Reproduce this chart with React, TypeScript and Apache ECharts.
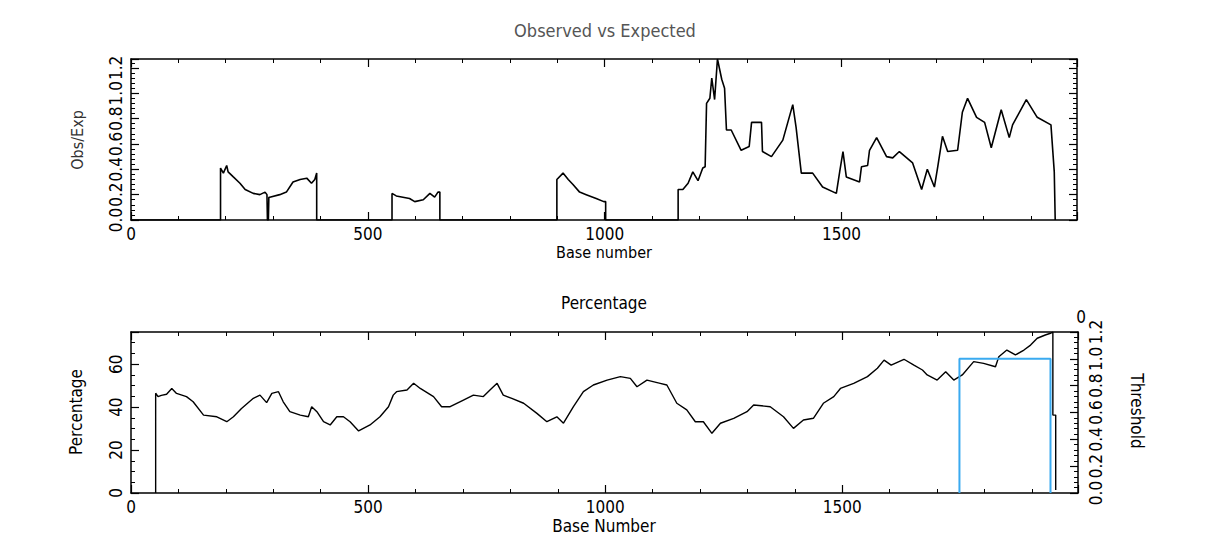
import React, { useEffect, useRef } from "react";
import * as echarts from "echarts";

// ---- Data ----
const obsBase = [0, 189, 189, 195, 202, 205, 216, 230, 241, 258, 272, 283, 287, 288, 290, 291, 293, 314, 328, 342, 357, 371, 381, 388, 392, 392,
  551, 551, 560, 588, 599, 617, 631, 641, 648, 652, 652,
  899, 899, 912, 923, 933, 947, 961, 982, 998, 1002, 1002,
  1155, 1155, 1165, 1176, 1186, 1197, 1207, 1212, 1215, 1222, 1226, 1232, 1238, 1247, 1253, 1257, 1267, 1288, 1305, 1310, 1331, 1333, 1352, 1376, 1397, 1404, 1415, 1439, 1460, 1489, 1496, 1503, 1510, 1538, 1542, 1555, 1559, 1574, 1595, 1608, 1622, 1650, 1669, 1681, 1696, 1703, 1713, 1724, 1745, 1755, 1766, 1785, 1802, 1816, 1837, 1854, 1861, 1890, 1913, 1942, 1949, 1951];
const obsRatio = [0, 0, 0.41, 0.37, 0.43, 0.38, 0.34, 0.29, 0.24, 0.21, 0.2, 0.22, 0.2, 0, 0, 0.18, 0.18, 0.2, 0.22, 0.3, 0.32, 0.33, 0.29, 0.32, 0.37, 0,
  0, 0.21, 0.19, 0.17, 0.145, 0.16, 0.21, 0.18, 0.22, 0.22, 0,
  0, 0.32, 0.37, 0.32, 0.28, 0.22, 0.2, 0.17, 0.145, 0.145, 0,
  0, 0.24, 0.24, 0.29, 0.38, 0.31, 0.41, 0.42, 0.92, 0.96, 1.12, 0.95, 1.27, 1.11, 1.04, 0.71, 0.71, 0.55, 0.58, 0.77, 0.77, 0.54, 0.5, 0.63, 0.91, 0.73, 0.37, 0.37, 0.26, 0.21, 0.38, 0.54, 0.34, 0.3, 0.42, 0.43, 0.55, 0.65, 0.5, 0.49, 0.54, 0.45, 0.24, 0.4, 0.26, 0.42, 0.66, 0.54, 0.55, 0.85, 0.96, 0.81, 0.77, 0.57, 0.87, 0.65, 0.75, 0.95, 0.81, 0.75, 0.38, 0];

const pctBase = [52, 52, 57, 64, 75, 86, 96, 117, 131, 153, 181, 202, 216, 233, 258, 272, 286, 297, 311, 321, 335, 357, 374, 381, 392, 406, 420, 434, 448, 462, 480, 504, 525, 543, 553, 560, 582, 596, 610, 638, 655, 673, 701, 722, 743, 757, 772, 785, 803, 828, 856, 877, 898, 912, 933, 954, 975, 1004, 1032, 1053, 1067, 1088, 1116, 1130, 1151, 1172, 1190, 1207, 1225, 1243, 1271, 1299, 1313, 1348, 1376, 1397, 1418, 1439, 1460, 1482, 1496, 1524, 1553, 1574, 1588, 1603, 1630, 1651, 1669, 1679, 1700, 1718, 1735, 1753, 1777, 1798, 1823, 1830, 1847, 1865, 1883, 1897, 1911, 1928, 1939, 1944, 1944, 1950, 1950];
const pctValue = [0, 46.5, 44.9, 45.5, 46, 48.7, 46.4, 44.9, 42.5, 36.3, 35.5, 33.2, 35.5, 39.4, 44.1, 45.6, 42.1, 46.4, 47.2, 42.5, 37.9, 36.3, 35.5, 40.2, 37.9, 33.2, 31.7, 35.5, 35.5, 33.2, 28.9, 31.7, 35.5, 40.2, 45.6, 47.2, 48, 51.1, 48.7, 44.9, 40.2, 40.2, 43.3, 45.6, 44.9, 48, 51.1, 45.6, 44.1, 41.8, 37.1, 33.2, 35.5, 32.5, 40.2, 47.2, 50.3, 52.6, 54.2, 53.4, 49.5, 52.6, 51.1, 50.3, 41.8, 38.7, 33.2, 33.2, 27.8, 32.5, 34.8, 37.9, 41, 40.2, 35.5, 30.1, 34, 34.8, 41.8, 44.9, 48.7, 51.1, 54.2, 58.1, 61.9, 59.6, 62.3, 59.6, 57.3, 55, 52.6, 56.5, 52.6, 55, 61.2, 60.4, 58.8, 63.5, 66.6, 64.3, 66.6, 68.9, 72.1, 73.6, 74.4, 75, 36.3, 36.3, 1.4];

const thrBase = [1747, 1747, 1939, 1939];
const thrValue = [0, 1.0, 1.0, 0];

const xTickInterval = 500;
const xMax = 1997;

const FONT = '"DejaVu Sans Condensed", "DejaVu Sans", sans-serif';

function zip(a: number[], b: number[]) {
  return a.map((v, i) => [v, b[i]]);
}

export default function App() {
  const ref = useRef<HTMLDivElement>(null);
  useEffect(() => {
    if (!ref.current) return;
    const chart = echarts.init(ref.current, undefined, { renderer: "svg" });
    const tickBase = {
      axisLine: { show: true, onZero: false, lineStyle: { color: "#000", width: 1.5 } },
      axisTick: { show: true, inside: true, length: 8, lineStyle: { color: "#000", width: 1.2 } },
      minorTick: { show: true, splitNumber: 5, length: 4, lineStyle: { color: "#000", width: 1 } },
      splitLine: { show: false },
      minorSplitLine: { show: false },
    };
    const labelStyle = { color: "#000", fontFamily: FONT, fontSize: 17 };
    const xAx = (gridIndex: number, position: string, showLabel: boolean) => ({
      type: "value",
      gridIndex,
      position,
      min: 0,
      max: xMax,
      interval: xTickInterval,
      ...tickBase,
      axisLabel: { show: showLabel, ...labelStyle, margin: 5, showMaxLabel: false, formatter: (v: number) => String(v) },
    });
    const fmt1 = (v: number) => v.toFixed(1);
    const option: any = {
      animation: false,
      backgroundColor: "#fff",
      grid: [
        { left: 131, top: 59, width: 946, height: 161 },
        { left: 131, top: 332, width: 947, height: 161 },
      ],
      xAxis: [xAx(0, "bottom", true), xAx(0, "top", false), xAx(1, "bottom", true), xAx(1, "top", false)],
      yAxis: [
        {
          type: "value", gridIndex: 0, position: "left", min: 0, max: 1.27, interval: 0.2, ...tickBase,
          axisLabel: { ...labelStyle, rotate: 90, margin: 7, formatter: fmt1, showMaxLabel: false },
        },
        {
          type: "value", gridIndex: 0, position: "right", min: 0, max: 1.27, interval: 0.2, ...tickBase,
          axisLabel: { show: false },
        },
        {
          type: "value", gridIndex: 1, position: "left", min: 0, max: 75, interval: 20, ...tickBase,
          minorTick: { ...tickBase.minorTick, splitNumber: 4 },
          axisLabel: { ...labelStyle, rotate: 90, margin: 7, showMaxLabel: false },
        },
        {
          type: "value", gridIndex: 1, position: "right", min: 0, max: 1.2, interval: 0.2, ...tickBase,
          axisLabel: { ...labelStyle, rotate: 90, margin: 9, formatter: fmt1 },
        },
      ],
      series: [
        {
          type: "line", xAxisIndex: 0, yAxisIndex: 0, data: zip(obsBase, obsRatio), showSymbol: false,
          lineStyle: { color: "#000", width: 1.6 }, silent: true,
        },
        {
          type: "line", xAxisIndex: 2, yAxisIndex: 2, data: zip(pctBase, pctValue), showSymbol: false,
          lineStyle: { color: "#000", width: 1.4 }, silent: true,
        },
        {
          type: "line", xAxisIndex: 2, yAxisIndex: 3, data: zip(thrBase, thrValue), showSymbol: false,
          lineStyle: { color: "#3aaaf0", width: 2 }, silent: true,
        },
      ],
      graphic: [
        { type: "text", x: 605, y: 30, style: { text: "Observed vs Expected", fill: "#555", font: `18px ${FONT}`, textAlign: "center", textVerticalAlign: "middle" } },
        { type: "text", x: 604, y: 252, style: { text: "Base number", fill: "#000", font: `16px ${FONT}`, textAlign: "center", textVerticalAlign: "middle" } },
        { type: "text", x: 77, y: 140, rotation: Math.PI / 2, style: { text: "Obs/Exp", fill: "#333", font: `16px ${FONT}`, textAlign: "center", textVerticalAlign: "middle" } },
        { type: "text", x: 604, y: 303, style: { text: "Percentage", fill: "#000", font: `17px ${FONT}`, textAlign: "center", textVerticalAlign: "middle" } },
        { type: "text", x: 604, y: 526, style: { text: "Base Number", fill: "#000", font: `17px ${FONT}`, textAlign: "center", textVerticalAlign: "middle" } },
        { type: "text", x: 76, y: 412, rotation: Math.PI / 2, style: { text: "Percentage", fill: "#000", font: `17px ${FONT}`, textAlign: "center", textVerticalAlign: "middle" } },
        { type: "text", x: 1137, y: 411, rotation: -Math.PI / 2, style: { text: "Threshold", fill: "#000", font: `17px ${FONT}`, textAlign: "center", textVerticalAlign: "middle" } },
        { type: "text", x: 1081, y: 317, style: { text: "0", fill: "#000", font: `17px ${FONT}`, textAlign: "center", textVerticalAlign: "middle" } },
      ],
    };
    chart.setOption(option);
    return () => chart.dispose();
  }, []);
  return (
    <div
      ref={ref}
      style={{ position: "absolute", left: 0, top: 0, width: 1208, height: 535, background: "#fff" }}
    />
  );
}
